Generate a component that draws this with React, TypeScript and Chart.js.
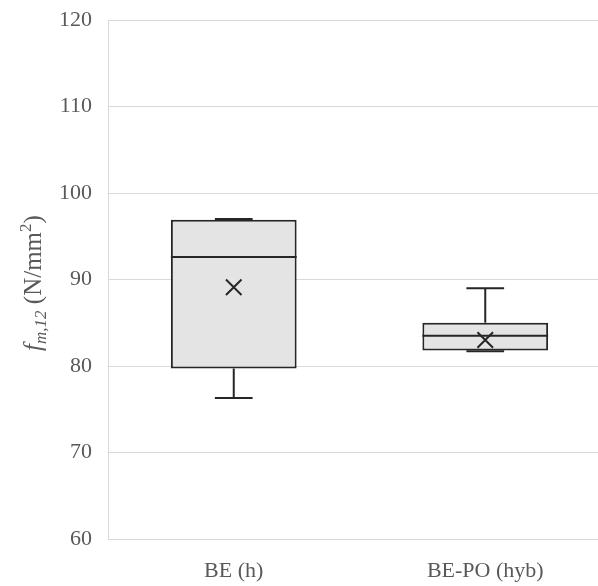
import React, { useEffect, useRef } from "react";
import { Chart, registerables } from "chart.js";

Chart.register(...registerables);

const categories = ["BE (h)", "BE-PO (hyb)"];
const minValues = [76.3, 81.7];
const q1Values = [79.7, 81.8];
const medianValues = [92.6, 83.5];
const q3Values = [96.9, 85.0];
const maxValues = [97.0, 89.0];
const meanValues = [89.1, 83.0];
const yTicks = [60, 70, 80, 90, 100, 110, 120];

const FONT = "'Liberation Serif', 'Times New Roman', serif";
const TEXT_COLOR = "#595959";
const LINE_COLOR = "#262626";

const boxPlugin = {
  id: "boxWhiskers",
  afterDatasetsDraw(chart: any) {
    const ctx = chart.ctx;
    const x = chart.scales.x;
    const y = chart.scales.y;
    const meta = chart.getDatasetMeta(0);
    ctx.save();
    ctx.strokeStyle = LINE_COLOR;
    ctx.lineWidth = 2;
    categories.forEach((_, i) => {
      const cx = x.getPixelForValue(i);
      const bar = meta.data[i];
      const half = bar.width / 2;
      const cap = bar.width * 0.15;
      const yMin = y.getPixelForValue(minValues[i]);
      const yQ1 = y.getPixelForValue(q1Values[i]);
      const yMed = y.getPixelForValue(medianValues[i]);
      const yQ3 = y.getPixelForValue(q3Values[i]);
      const yMax = y.getPixelForValue(maxValues[i]);
      ctx.beginPath();
      ctx.moveTo(cx - half, yMed);
      ctx.lineTo(cx + half, yMed);
      ctx.moveTo(cx, yQ3);
      ctx.lineTo(cx, yMax);
      ctx.moveTo(cx - cap, yMax);
      ctx.lineTo(cx + cap, yMax);
      ctx.moveTo(cx, yQ1);
      ctx.lineTo(cx, yMin);
      ctx.moveTo(cx - cap, yMin);
      ctx.lineTo(cx + cap, yMin);
      ctx.stroke();
    });
    ctx.restore();
  },
  afterDraw(chart: any) {
    const ctx = chart.ctx;
    const cy = 283;
    const big = 25;
    const small = 17;
    const parts = [
      { t: "f", font: `italic ${big}px ${FONT}`, dy: 0, extra: 0 },
      { t: "m,12", font: `italic ${small}px ${FONT}`, dy: 5, extra: 0 },
      { t: " (N/mm", font: `${big}px ${FONT}`, dy: 0, extra: 0 },
      { t: "2", font: `${small}px ${FONT}`, dy: -10, extra: 0 },
      { t: ")", font: `${big}px ${FONT}`, dy: 0, extra: 0 },
    ];
    ctx.save();
    ctx.fillStyle = TEXT_COLOR;
    ctx.textBaseline = "alphabetic";
    ctx.textAlign = "left";
    let total = 0;
    const widths = parts.map((p) => {
      ctx.font = p.font;
      const w = ctx.measureText(p.t).width + p.extra;
      total += w;
      return w;
    });
    ctx.translate(41, cy);
    ctx.rotate(-Math.PI / 2);
    let xPos = -total / 2;
    parts.forEach((p, i) => {
      ctx.font = p.font;
      ctx.fillText(p.t, xPos, p.dy);
      xPos += widths[i];
    });
    ctx.restore();
  },
};

export default function App() {
  const canvasRef = useRef<HTMLCanvasElement | null>(null);

  useEffect(() => {
    document.documentElement.style.overflow = "hidden";
    document.body.style.overflow = "hidden";
    const canvas = canvasRef.current;
    if (!canvas) return;
    const chart = new Chart(canvas, {
      type: "bar",
      data: {
        labels: categories,
        datasets: [
          {
            type: "bar",
            data: q1Values.map((q1, i) => [q1, q3Values[i]]) as any,
            backgroundColor: "#e4e4e4",
            borderColor: LINE_COLOR,
            borderWidth: 2,
            borderSkipped: false,
            barPercentage: 0.5,
            categoryPercentage: 1,
            order: 2,
          } as any,
          {
            type: "line",
            data: meanValues,
            showLine: false,
            pointStyle: "crossRot",
            pointRadius: 11,
            pointBorderWidth: 2,
            pointBorderColor: LINE_COLOR,
            pointBackgroundColor: LINE_COLOR,
            borderColor: LINE_COLOR,
            order: 1,
          } as any,
        ],
      },
      options: {
        animation: false,
        responsive: false,
        maintainAspectRatio: false,
        layout: { padding: { top: 20, right: 2, left: 0, bottom: 0 } },
        plugins: {
          legend: { display: false },
          tooltip: { enabled: false },
          title: { display: false },
        },
        scales: {
          x: {
            type: "category",
            offset: true,
            grid: { display: false, drawTicks: false },
            border: { display: false },
            ticks: {
              color: TEXT_COLOR,
              font: { family: FONT, size: 22 },
              padding: 19,
              maxRotation: 0,
            },
            afterFit(scale: any) {
              scale.height = 47;
              scale.paddingLeft = 0;
              scale.paddingRight = 0;
            },
          },
          y: {
            min: 60,
            max: 120,
            afterBuildTicks(scale: any) {
              scale.ticks = yTicks.map((v) => ({ value: v }));
            },
            grid: { color: "#d9d9d9", lineWidth: 1, drawTicks: false },
            border: { display: true, color: "#d9d9d9", width: 1 },
            ticks: {
              color: TEXT_COLOR,
              font: { family: FONT, size: 22 },
              padding: 16,
            },
            afterFit(scale: any) {
              scale.width = 108;
              scale.paddingTop = 0;
              scale.paddingBottom = 0;
            },
          },
        },
      },
      plugins: [boxPlugin],
    });
    return () => chart.destroy();
  }, []);

  return (
    <div style={{ position: "absolute", left: 0, top: 0, width: 624, height: 586 }}>
      <canvas ref={canvasRef} width={624} height={586} style={{ display: "block" }} />
    </div>
  );
}
